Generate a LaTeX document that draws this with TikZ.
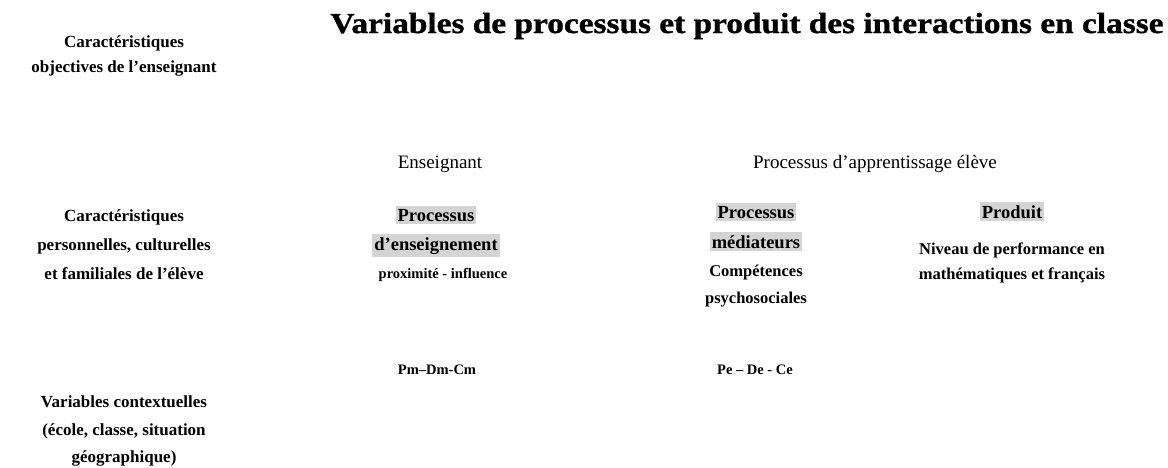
\documentclass[tikz,border=0pt]{standalone}
\usepackage{fontspec}
\setmainfont{Liberation Serif}
\newfontfamily\titlefont{Liberation Serif Bold}[FakeBold=1.2,FakeStretch=1.15]
\definecolor{hl}{RGB}{212,212,212}
\begin{document}
\begin{tikzpicture}[x=1pt,y=-1pt,
  lbl/.style={font=\bfseries\fontsize{17}{17}\selectfont, inner sep=0pt, anchor=base},
  mid/.style={font=\bfseries\fontsize{16.5}{16.5}\selectfont, inner sep=0pt, anchor=base},
  small/.style={font=\bfseries\fontsize{14.5}{14.5}\selectfont, inner sep=0pt, anchor=base},
  head/.style={font=\bfseries\fontsize{18.5}{18.5}\selectfont, fill=hl, inner xsep=2pt, inner ysep=3pt, anchor=base},
  reg/.style={font=\fontsize{19}{19}\selectfont, inner sep=0pt, anchor=base},
  ttl/.style={font=\titlefont\fontsize{29}{29}\selectfont, inner sep=0pt, anchor=base}]
\useasboundingbox (0,0) rectangle (1168,467);
\node[ttl] (title) at (747,33) {Variables de processus et produit des interactions en classe};
\node[lbl] (t1) at (124,47) {Caractéristiques};
\node[lbl] (t2) at (124,72) {objectives de l’enseignant};
\node[reg] (ens) at (440,168) {Enseignant};
\node[reg] (pae) at (875,168) {Processus d’apprentissage élève};
\node[lbl] (c1) at (124,221) {Caractéristiques};
\node[lbl] (c2) at (124,250) {personnelles, culturelles};
\node[lbl] (c3) at (124,279) {et familiales de l’élève};
\node[head] (pe1) at (436,221) {Processus};
\node[head] (pe2) at (436,250) {d’enseignement};
\node[small] (pe3) at (443,278) {proximité - influence};
\node[head] (pm1) at (756,218) {Processus};
\node[head] (pm2) at (756,248) {médiateurs};
\node[mid] (pm3) at (756,276) {Compétences};
\node[mid] (pm4) at (756,303) {psychosociales};
\node[head] (pr1) at (1012,218) {Produit};
\node[mid] (pr2) at (1012,254) {Niveau de performance en};
\node[mid] (pr3) at (1012,279) {mathématiques et français};
\node[small] (pdc) at (437,374) {Pm–Dm-Cm};
\node[small] (pde) at (755,374) {Pe – De - Ce};
\node[lbl] (v1) at (124,407) {Variables contextuelles};
\node[lbl] (v2) at (124,435) {(école, classe, situation};
\node[lbl] (v3) at (124,462) {géographique)};
\end{tikzpicture}
\end{document}
